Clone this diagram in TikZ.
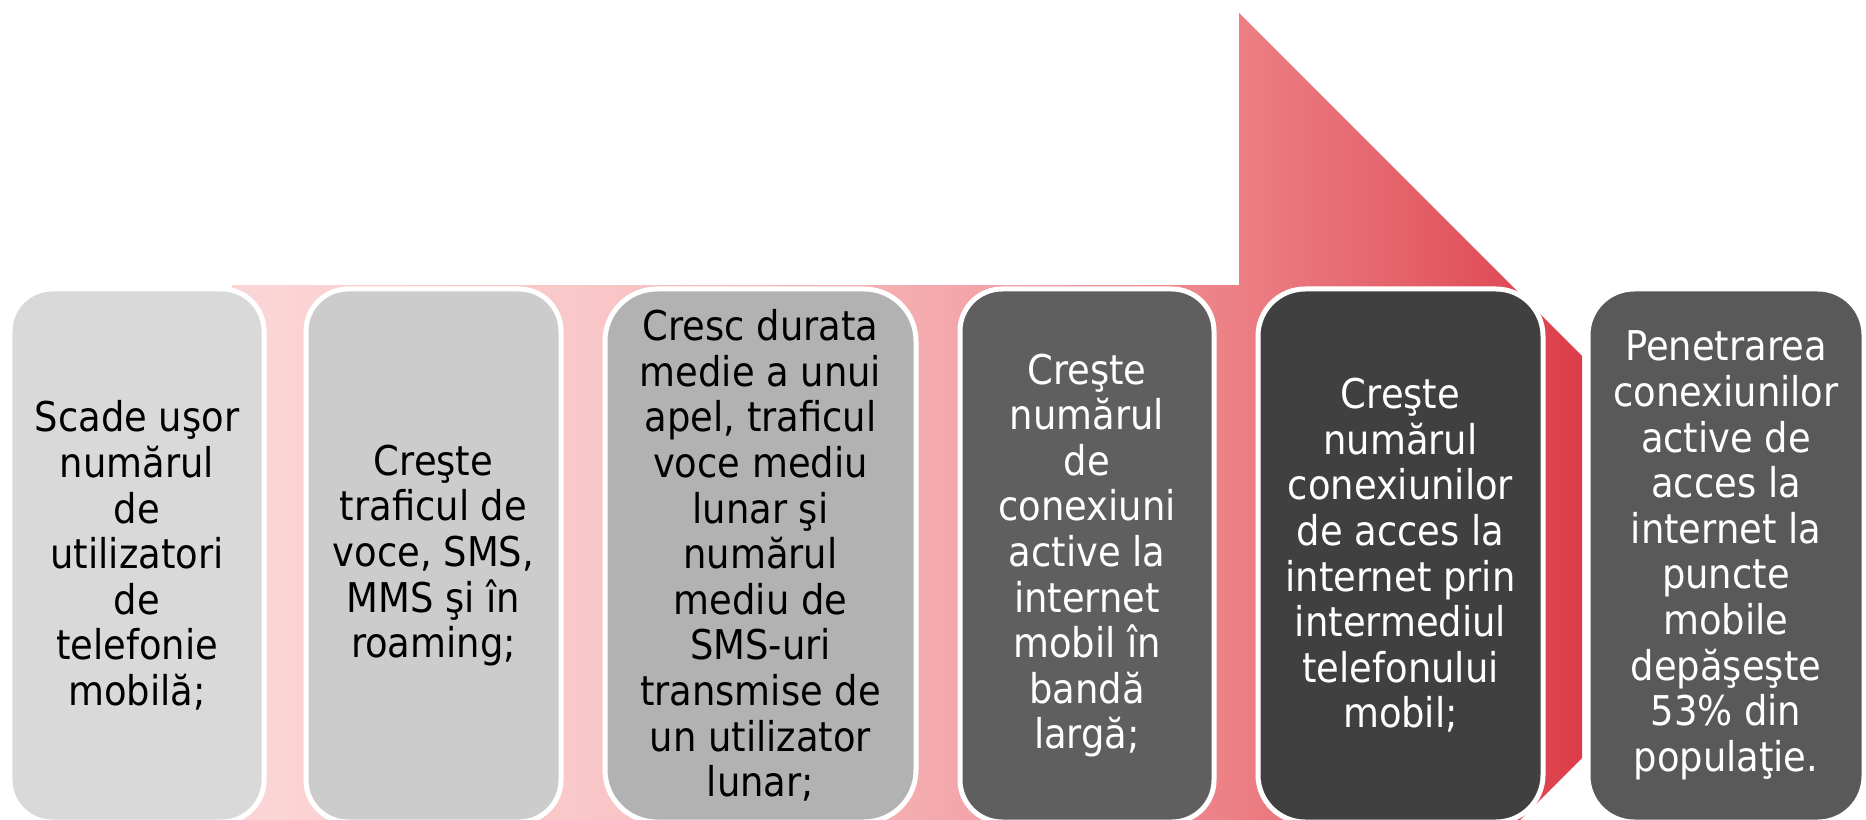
\documentclass[tikz,border=0pt]{standalone}
\usepackage{fontspec}
\setmainfont{DejaVu Sans Condensed}
\definecolor{pk0}{RGB}{251,214,214}
\definecolor{pk1}{RGB}{249,199,200}
\definecolor{pk2}{RGB}{244,170,173}
\definecolor{pk3}{RGB}{236,128,133}
\definecolor{pk4}{RGB}{229,100,108}
\definecolor{pk5}{RGB}{220,60,72}
\definecolor{g1}{RGB}{217,217,217}
\definecolor{g2}{RGB}{204,204,204}
\definecolor{g3}{RGB}{178,178,178}
\definecolor{g4}{RGB}{95,95,95}
\definecolor{g5}{RGB}{64,64,64}
\definecolor{g6}{RGB}{89,89,89}
\pgfdeclarehorizontalshading{arrowshade}{100bp}{color(0bp)=(pk0); color(25bp)=(pk0); color(38bp)=(pk1); color(51bp)=(pk2); color(62bp)=(pk3); color(68bp)=(pk4); color(75bp)=(pk5); color(100bp)=(pk5)}
\begin{document}
\begin{tikzpicture}[x=1bp,y=-1bp,
  box/.style={rectangle, draw=white, line width=5bp, inner sep=0pt, align=center,
    minimum height=533bp, font=\fontsize{41bp}{45.6bp}\selectfont},
  darktext/.style={text=black},
  lighttext/.style={text=white}]
\useasboundingbox (0,0) rectangle (1866,820);
\begin{scope}
  \clip (0,0) rectangle (1866,820);
  \shade[shading=arrowshade] (232,285) -- (1239,285) -- (1239,13) -- (1582,356) -- (1582,758) -- (1239,1101) -- (1239,829) -- (232,829) -- cycle;
\end{scope}
\node[box, darktext, fill=g1, minimum width=254bp, rounded corners=42bp] (b1) at (137,555.5)
  {Scade uşor\\numărul\\de\\utilizatori\\de\\telefonie\\mobilă;};
\node[box, darktext, fill=g2, minimum width=255bp, rounded corners=42bp] (b2) at (433.5,555.5)
  {Creşte\\traficul de\\voce, SMS,\\MMS şi în\\roaming;};
\node[box, darktext, fill=g3, minimum width=311bp, rounded corners=52bp] (b3) at (760.5,555.5)
  {Cresc durata\\medie a unui\\apel, traficul\\voce mediu\\lunar şi\\numărul\\mediu de\\SMS-uri\\transmise de\\un utilizator\\lunar;};
\node[box, lighttext, fill=g4, minimum width=254bp, rounded corners=42bp] (b4) at (1087,555.5)
  {Creşte\\numărul\\de\\conexiuni\\active la\\internet\\mobil în\\bandă\\largă;};
\node[box, lighttext, fill=g5, minimum width=285bp, rounded corners=47bp] (b5) at (1400.5,555.5)
  {Creşte\\numărul\\conexiunilor\\de acces la\\internet prin\\intermediul\\telefonului\\mobil;};
\node[box, lighttext, fill=g6, minimum width=276bp, rounded corners=46bp] (b6) at (1726,555.5)
  {Penetrarea\\conexiunilor\\active de\\acces la\\internet la\\puncte\\mobile\\depăşeşte\\53\% din\\populaţie.};
\end{tikzpicture}
\end{document}
